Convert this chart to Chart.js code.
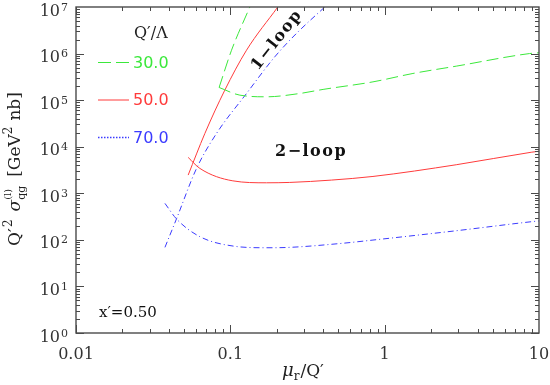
<!DOCTYPE html>
<html>
<head>
<meta charset="utf-8">
<script src="https://cdn.jsdelivr.net/npm/chart.js@4.4.0/dist/chart.umd.min.js"></script>
<style>
  html, body { margin: 0; padding: 0; background: #fff; }
</style>
</head>
<body>
<canvas id="c" width="550" height="385"></canvas>
<script>
// values (mu_r/Q', Q'^2 sigma)
const green1X = [0.0846, 0.1018, 0.1337];
const green1Y = [1.87e5, 1.18e6, 1e7];
const green2X = [0.0846, 0.1152, 0.1715, 0.282, 0.399, 0.84, 1.525, 2.91, 8.68, 10];
const green2Y = [1.87e5, 1.28e5, 1.18e5, 1.39e5, 1.70e5, 2.47e5, 3.74e5, 5.37e5, 1.0e6, 1.04e6];

const red1X = [0.0533, 0.0684, 0.0921, 0.1273, 0.203];
const red1Y = [2.46e3, 1.93e4, 1.64e5, 1.18e6, 1e7];
const red2X = [0.0533, 0.0635, 0.1038, 0.1715, 0.2427, 0.452, 0.84, 2.91, 8.9, 10];
const red2Y = [5.89e3, 3.42e3, 1.85e3, 1.68e3, 1.71e3, 1.92e3, 2.3e3, 4.1e3, 7.6e3, 8.0e3];

const blue1X = [0.0377, 0.0449, 0.0604, 0.0814, 0.1273, 0.194, 0.268, 0.409];
const blue1Y = [69, 289, 3.42e3, 1.93e4, 1.39e5, 8.5e5, 2.7e6, 1e7];
const blue2X = [0.0377, 0.0449, 0.0635, 0.1042, 0.1715, 0.2427, 0.525, 0.84, 2.91, 8.9, 10];
const blue2Y = [607, 279, 117, 73.6, 67.7, 69, 84, 99, 157, 245, 255];

const xTickVals = [0.01, 0.1, 1, 10];
const xTickLabels = ['0.01', '0.1', '1', '10'];
const yTickVals = [1, 10, 100, 1e3, 1e4, 1e5, 1e6, 1e7];
const yTickExps = ['0', '1', '2', '3', '4', '5', '6', '7'];

const legendNames = ['30.0', '50.0', '70.0'];
const GREEN = '#3be83b', RED = '#ff3b3b', BLUE = '#3b3bff';

const SERIF = '"DejaVu Serif", serif';

function pts(xs, ys) { return xs.map((x, i) => ({ x: x, y: ys[i] })); }

function line(data, color, dash) {
  return {
    data: data, borderColor: color, borderWidth: 1, borderDash: dash,
    showLine: true, pointRadius: 0, fill: false, cubicInterpolationMode: 'monotone'
  };
}

// draw a row of text pieces (with sub/superscripts)
function drawRuns(ctx, parts, x, y, center) {
  let widths = parts.map(p => {
    ctx.font = p.font;
    let w = ctx.measureText(p.t).width;
    if (p.t2) { ctx.font = p.font2; w = Math.max(w, ctx.measureText(p.t2).width); }
    return w + (p.gap || 0);
  });
  let total = widths.reduce((a, b) => a + b, 0);
  let cx = center ? x - total / 2 : x;
  parts.forEach((p, i) => {
    ctx.font = p.font;
    ctx.fillText(p.t, cx, y + (p.dy || 0));
    if (p.t2) { ctx.font = p.font2; ctx.fillText(p.t2, cx, y + p.dy2); }
    cx += widths[i];
  });
}

const deco = {
  id: 'deco',
  afterDraw(chart) {
    const ctx = chart.ctx, a = chart.chartArea;
    const xs = chart.scales.x, ys = chart.scales.y;
    ctx.save();
    // frame
    ctx.strokeStyle = '#4a4a4a';
    ctx.lineWidth = 1.4;
    ctx.strokeRect(a.left, a.top, a.right - a.left, a.bottom - a.top);
    // inward ticks
    ctx.lineWidth = 1;
    ctx.beginPath();
    for (let d = 0.01; d < 10; d *= 10) {
      for (let m = 1; m <= 9; m++) {
        const px = Math.round(xs.getPixelForValue(d * m)) + 0.5;
        const len = m === 1 ? 8 : 4;
        ctx.moveTo(px, a.bottom); ctx.lineTo(px, a.bottom - len);
        ctx.moveTo(px, a.top); ctx.lineTo(px, a.top + len);
      }
    }
    for (let d = 1; d < 1e7; d *= 10) {
      for (let m = 1; m <= 9; m++) {
        const py = Math.round(ys.getPixelForValue(d * m)) + 0.5;
        const len = m === 1 ? 8 : 4;
        ctx.moveTo(a.left, py); ctx.lineTo(a.left + len, py);
        ctx.moveTo(a.right, py); ctx.lineTo(a.right - len, py);
      }
    }
    ctx.stroke();

    // y tick labels 10^n
    ctx.fillStyle = '#333';
    ctx.textAlign = 'right';
    ctx.textBaseline = 'alphabetic';
    yTickVals.forEach((v, i) => {
      const py = ys.getPixelForValue(v);
      ctx.font = '11px ' + SERIF;
      const sw = ctx.measureText(yTickExps[i]).width;
      ctx.fillText(yTickExps[i], 68, py + 3.5);
      ctx.font = '16px ' + SERIF;
      ctx.fillText('10', 68 - sw - 1, py + 8.5);
    });
    ctx.textAlign = 'left';

    // legend
    ctx.fillStyle = '#222';
    ctx.font = '16px ' + SERIF;
    ctx.fillText('Q′/Λ', 134, 38);
    const rows = [62.5, 100, 137.5];
    const cols = [GREEN, RED, BLUE];
    const dashes = [[13, 5], [], [1.5, 1.5]];
    rows.forEach((ry, i) => {
      ctx.strokeStyle = cols[i];
      ctx.lineWidth = i === 2 ? 1.3 : 1;
      ctx.setLineDash(dashes[i]);
      ctx.beginPath();
      ctx.moveTo(98, ry); ctx.lineTo(129, ry);
      ctx.stroke();
      ctx.setLineDash([]);
      ctx.fillStyle = cols[i];
      ctx.font = '16px "DejaVu Sans", sans-serif';
      ctx.textBaseline = 'middle';
      ctx.fillText(legendNames[i], 133, ry + 1);
    });

    // annotations
    ctx.fillStyle = '#111';
    ctx.textBaseline = 'alphabetic';
    ctx.font = 'bold 16px ' + SERIF;
    ctx.letterSpacing = '1.5px';
    ctx.fillText('2−loop', 275, 156);
    ctx.save();
    ctx.translate(277, 40);
    ctx.rotate(-52 * Math.PI / 180);
    ctx.textAlign = 'center';
    ctx.textBaseline = 'middle';
    ctx.fillText('1−loop', 0, 0);
    ctx.restore();
    ctx.letterSpacing = '0px';
    ctx.font = '15px ' + SERIF;
    ctx.fillText('x′=0.50', 99, 317);

    // x title
    ctx.fillStyle = '#222';
    drawRuns(ctx, [
      { t: 'μ', font: 'italic 18px ' + SERIF },
      { t: 'r', font: '12px ' + SERIF, dy: 4, gap: 1 },
      { t: '/Q′', font: '17px ' + SERIF }
    ], 282, 376, false);

    // y title
    ctx.save();
    ctx.translate(20, 169);
    ctx.rotate(-Math.PI / 2);
    drawRuns(ctx, [
      { t: 'Q′', font: '17px ' + SERIF, gap: 1 },
      { t: '2', font: '12px ' + SERIF, dy: -8, gap: 8 },
      { t: 'σ', font: 'italic 17px ' + SERIF },
      { t: 'qg', font: '11px ' + SERIF, dy: 5, t2: '(l)', font2: '10px ' + SERIF, dy2: -9, gap: 9 },
      { t: '[GeV', font: '17px ' + SERIF },
      { t: '2', font: '12px ' + SERIF, dy: -8, gap: 6 },
      { t: 'nb]', font: '17px ' + SERIF }
    ], 0, 0, true);
    ctx.restore();

    ctx.restore();
  }
};

new Chart(document.getElementById('c').getContext('2d'), {
  type: 'scatter',
  data: {
    datasets: [
      line(pts(green1X, green1Y), GREEN, [12, 5]),
      line(pts(green2X, green2Y), GREEN, [12, 5]),
      line(pts(red1X, red1Y), RED, []),
      line(pts(red2X, red2Y), RED, []),
      line(pts(blue1X, blue1Y), BLUE, [6, 3, 1, 3]),
      line(pts(blue2X, blue2Y), BLUE, [6, 3, 1, 3])
    ]
  },
  options: {
    responsive: false,
    animation: false,
    devicePixelRatio: 1,
    layout: { padding: { top: 7, right: 11, left: 0, bottom: 0 } },
    plugins: { legend: { display: false }, tooltip: { enabled: false } },
    scales: {
      x: {
        type: 'logarithmic', min: 0.01, max: 10,
        grid: { display: false }, border: { display: false },
        afterBuildTicks: s => { s.ticks = xTickVals.map(v => ({ value: v })); },
        ticks: {
          autoSkip: false, maxRotation: 0, padding: 4, color: '#333',
          font: { family: SERIF, size: 16 },
          callback: (v) => xTickLabels[xTickVals.indexOf(v)]
        },
        afterFit: s => { s.height = 52; s.paddingLeft = 0; s.paddingRight = 0; }
      },
      y: {
        type: 'logarithmic', min: 1, max: 1e7,
        grid: { display: false }, border: { display: false },
        afterBuildTicks: s => { s.ticks = yTickVals.map(v => ({ value: v })); },
        ticks: { display: false },
        afterFit: s => { s.width = 76; s.paddingTop = 0; s.paddingBottom = 0; }
      }
    }
  },
  plugins: [deco]
});
</script>
</body>
</html>
